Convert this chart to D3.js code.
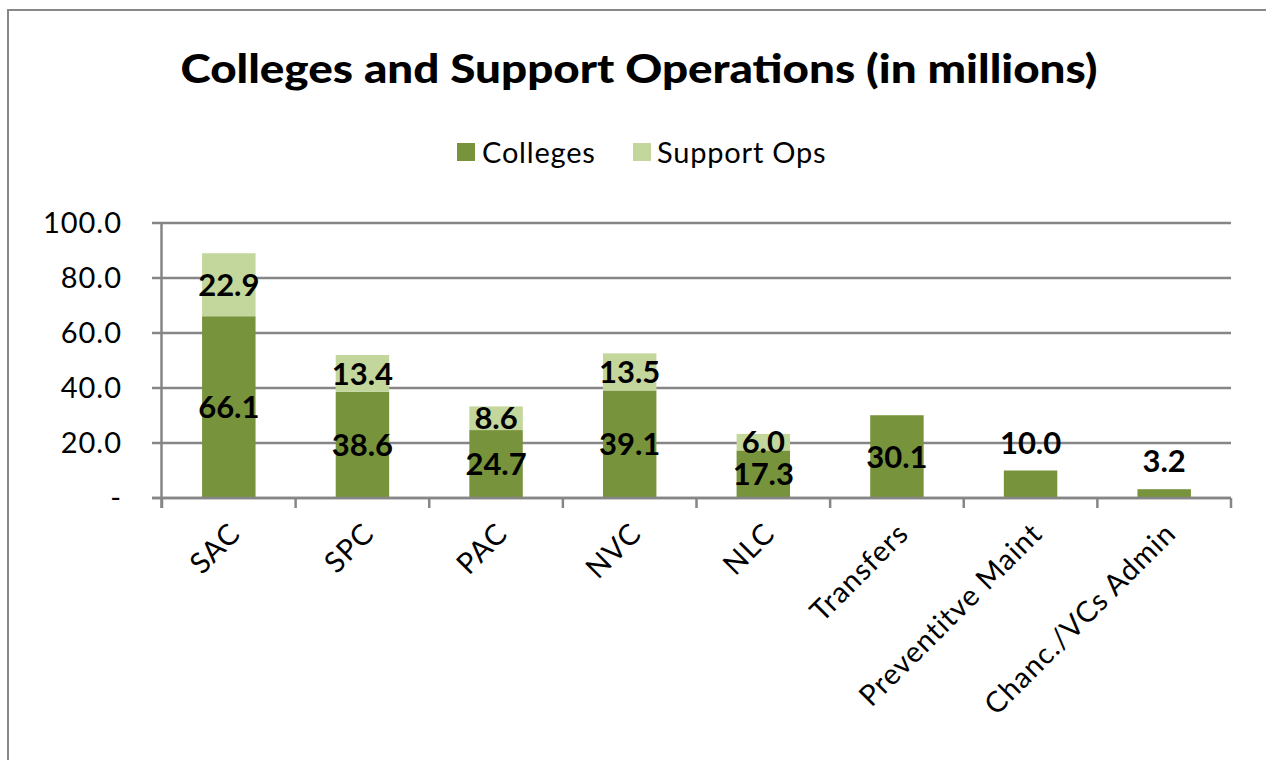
<!DOCTYPE html>
<html><head><meta charset="utf-8">
<script src="https://cdn.jsdelivr.net/npm/d3@7"></script>
<style>
html,body{margin:0;padding:0;background:#fff;}
svg{display:block;font-family:Lato,"Open Sans",sans-serif;}
</style></head>
<body>
<svg id="chart" width="1266" height="760"></svg>
<script>
const categories = ["SAC","SPC","PAC","NVC","NLC","Transfers","Preventitve Maint","Chanc./VCs Admin"];
const colleges = [66.1,38.6,24.7,39.1,17.3,30.1,10.0,3.2];
const supportOps = [22.9,13.4,8.6,13.5,6.0,null,null,null];
const seriesNames = ["Colleges","Support Ops"];
const yTicks = [0,20,40,60,80,100];
const title = "Colleges and Support Operations (in millions)";

const colors = ["#77933C","#C3D69B"];
const gridColor = "#868686";
const svg = d3.select("#chart");

// frame
svg.append("rect").attr("x",8).attr("y",10).attr("width",1400).attr("height",900)
  .attr("fill","none").attr("stroke","#888").attr("stroke-width",2);

const x = d3.scaleBand().domain(categories).range([162,1231]).paddingInner(0.6).paddingOuter(0.3);
const y = d3.scaleLinear().domain([0,100]).range([498,223]);

// title
svg.append("text").attr("x",639).attr("y",83).attr("text-anchor","middle")
  .attr("font-size",39).attr("font-weight",900).attr("fill","#000")
  .attr("textLength",917).attr("lengthAdjust","spacingAndGlyphs").text(title);

// legend
const leg = [{x:457,tx:482},{x:633,tx:657}];
seriesNames.forEach((n,i)=>{
  svg.append("rect").attr("x",leg[i].x).attr("y",143).attr("width",18).attr("height",18).attr("fill",colors[i]);
  svg.append("text").attr("x",leg[i].tx).attr("y",163).attr("font-size",29).attr("letter-spacing",0.8)
    .attr("fill","#000").text(n);
});

// gridlines
const g = svg.append("g");
yTicks.forEach(t=>{
  g.append("line").attr("x1",152).attr("x2",1231).attr("y1",y(t)).attr("y2",y(t))
    .attr("stroke",gridColor).attr("stroke-width",2.5);
  g.append("text").attr("x",122).attr("y",y(t)).attr("dy","0.36em").attr("text-anchor","end")
    .attr("font-size",29).attr("letter-spacing",1).attr("fill","#000").text(t===0?"-":d3.format(".1f")(t));
});
// y axis line
g.append("line").attr("x1",161.5).attr("x2",161.5).attr("y1",y(100)).attr("y2",508)
  .attr("stroke",gridColor).attr("stroke-width",2.5);
// x ticks
const bw = (1231-162)/categories.length;
d3.range(categories.length+1).forEach(i=>{
  g.append("line").attr("x1",162+i*bw).attr("x2",162+i*bw).attr("y1",498).attr("y2",508)
    .attr("stroke",gridColor).attr("stroke-width",2.5);
});

// stacked data
const rows = categories.map((c,i)=>({cat:c, Colleges:colleges[i], "Support Ops":supportOps[i]||0, sup:supportOps[i]}));
const stack = d3.stack().keys(seriesNames)(rows);
const bars = svg.append("g");
stack.forEach((s,si)=>{
  bars.selectAll(null).data(s.filter(d=>d[1]>d[0])).enter().append("rect")
    .attr("x",d=>x(d.data.cat)).attr("width",x.bandwidth())
    .attr("y",d=>y(d[1])).attr("height",d=>y(d[0])-y(d[1]))
    .attr("fill",colors[si]);
});
// redraw axis baseline over bars
svg.append("line").attr("x1",152).attr("x2",1231).attr("y1",y(0)).attr("y2",y(0))
  .attr("stroke",gridColor).attr("stroke-width",2.5);

// labels
const outside = new Set(["Preventitve Maint","Chanc./VCs Admin"]);
const lab = svg.append("g").attr("font-size",31).attr("font-weight",700).attr("fill","#000").attr("text-anchor","middle");
stack.forEach((s,si)=>{
  s.forEach(d=>{
    const v = si===0 ? d.data.Colleges : d.data.sup;
    if(v==null) return;
    const cx = x(d.data.cat)+x.bandwidth()/2;
    let cy = outside.has(d.data.cat) ? y(d[1])-28 : (y(d[0])+y(d[1]))/2;
    lab.append("text").attr("x",cx).attr("y",cy).attr("dy","0.36em").text(d3.format(".1f")(v));
  });
});

// x labels
const xl = svg.append("g").attr("font-size",29).attr("letter-spacing",1).attr("fill","#000");
categories.forEach(c=>{
  const cx = x(c)+x.bandwidth()/2;
  xl.append("text").attr("text-anchor","end")
    .attr("transform",`translate(${cx-2},${520}) rotate(-45)`)
    .attr("dy","0.75em").text(c);
});
</script>
</body></html>
